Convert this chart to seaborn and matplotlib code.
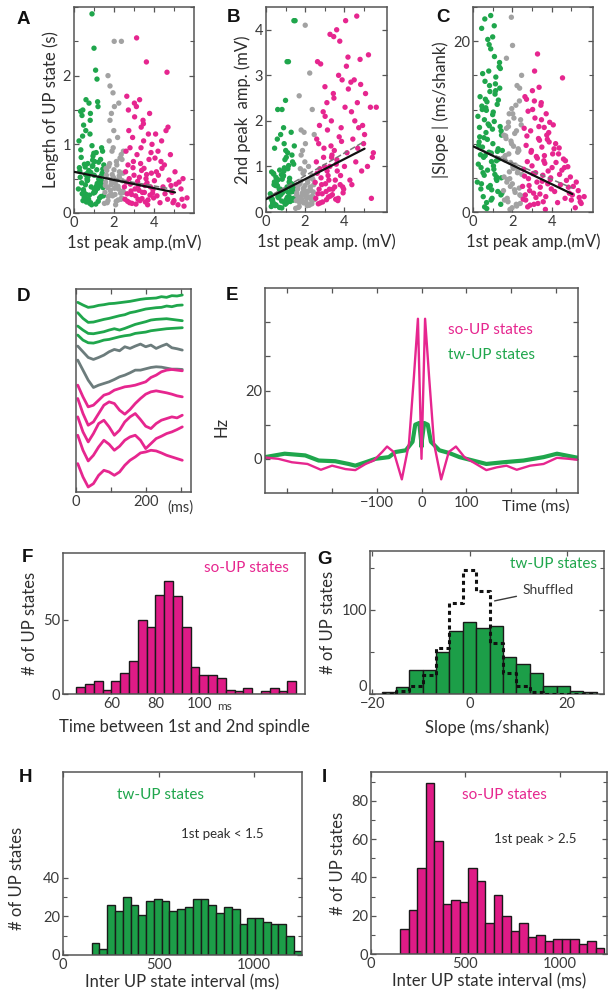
import numpy as np
import pandas as pd
import matplotlib
matplotlib.use("Agg")
import matplotlib.pyplot as plt
import seaborn as sns
from matplotlib.ticker import FixedLocator, MultipleLocator

# ---------------- data: panels A-C (one entry per UP state) ----------------
tw_amp1 = [0.22,0.31,0.45,0.52,0.38,0.61,0.74,0.83,0.95,1.12,1.28,1.41,0.27,0.49,0.66,0.88,1.03,1.19,1.36,1.47,
           0.34,0.57,0.71,0.92,1.08,1.24,1.33,0.41,0.63,0.79,0.99,1.16,1.44,0.25,0.54,0.69,0.86,1.01,1.21,1.39,
           0.29,0.47,0.59,0.77,0.94,1.09,1.26,1.45,0.36,0.51,0.68,0.81,0.97,1.14,1.31,0.43,0.58,0.73,0.9,1.06,
           1.23,1.42,0.33,0.62,0.84,1.11,1.35,0.48,0.7,1.0,1.18,1.29,0.56,0.8,1.04,1.38,0.4,0.65,0.93,1.2,
           1.0,1.08,0.9,0.6,0.82,1.15,0.44,1.43,1.49,0.75]
tw_length = [0.35,0.52,0.18,0.71,0.44,0.27,0.62,0.15,0.83,0.39,0.22,0.58,0.66,0.31,0.47,0.12,0.75,0.36,0.54,0.25,
             0.92,0.41,0.19,0.68,0.33,0.49,0.78,0.28,0.57,0.14,0.87,0.43,0.64,1.05,0.21,0.72,0.38,0.55,0.17,0.46,
             0.61,0.34,1.2,0.26,0.69,0.13,0.51,0.37,0.81,0.23,0.48,1.35,0.29,0.63,0.42,1.12,0.56,0.2,0.98,0.32,
             0.74,0.45,1.48,0.16,0.59,0.88,0.24,1.28,0.53,0.35,1.62,0.4,0.67,1.15,0.3,0.95,1.42,0.5,0.77,1.55,
             2.4,2.08,2.9,1.65,1.45,1.95,1.5,0.9,0.7,1.6]
tw_amp2 = [0.4,0.25,0.62,0.15,0.85,0.33,0.5,0.72,0.21,0.95,0.44,0.3,0.12,0.58,0.36,0.78,0.27,0.65,1.1,0.48,
           0.19,0.7,0.41,0.9,0.55,0.23,1.25,0.6,0.35,0.82,0.17,1.02,0.52,0.3,0.68,0.1,0.46,1.35,0.74,0.26,
           0.88,0.14,0.57,0.39,0.97,0.32,0.63,1.45,0.22,0.76,0.5,0.09,1.15,0.43,0.29,0.66,1.6,0.37,0.8,0.2,
           0.54,1.05,0.28,0.71,0.42,1.3,0.61,0.16,0.92,0.47,0.34,1.75,0.59,0.24,1.2,0.45,0.83,0.31,1.5,0.67,
           2.45,3.3,1.85,2.25,2.25,3.3,1.4,4.2,4.2,1.7]
tw_slope = [3.5,8.2,12.4,1.8,6.7,15.3,4.9,10.1,2.6,13.8,7.4,0.9,5.6,16.2,9.3,3.1,11.7,6.0,14.5,2.2,
            8.8,4.3,12.9,1.4,10.6,7.1,17.0,5.2,13.2,2.9,9.7,15.8,4.0,11.2,6.4,1.1,14.1,8.0,3.7,16.8,
            7.8,12.0,0.6,10.3,5.9,18.2,2.4,9.0,13.5,4.6,11.9,7.0,1.6,15.0,6.2,3.3,10.8,8.5,19.1,5.0,
            12.6,2.0,9.9,6.6,14.8,4.4,17.5,7.6,0.4,11.4,3.9,13.1,8.7,16.5,5.4,10.0,2.7,12.2,6.9,4.1,
            20.5,21.8,23.0,22.6,19.6,14.2,21.5,9.5,7.2,20.2]

mid_amp1 = [1.55,1.62,1.7,1.78,1.85,1.93,2.0,2.08,2.15,2.22,2.3,2.38,2.45,1.58,1.66,1.74,1.82,1.9,1.97,2.05,
            2.12,2.2,2.27,2.35,2.42,2.48,1.52,1.6,1.68,1.76,1.84,1.91,1.99,2.06,2.14,2.21,2.29,2.36,2.44,1.64,
            1.72,1.8,1.88,1.96,2.03,2.11,2.18,2.26,2.33,2.4,1.57,1.87,2.01,2.24,2.47,1.7,1.95,2.02,2.37,1.8]
mid_length = [0.3,0.55,0.18,0.72,0.41,0.25,0.63,0.12,0.48,0.35,0.8,0.22,0.58,0.45,0.15,0.68,0.33,0.9,0.52,0.27,
              0.75,0.39,0.6,0.2,0.47,0.3,0.14,0.65,0.37,1.05,0.28,0.56,1.2,0.43,0.7,0.19,0.5,0.85,0.32,0.62,
              0.24,1.35,0.46,0.95,0.36,0.17,1.1,0.54,0.29,0.78,0.4,1.45,2.5,1.6,0.9,2.0,1.75,1.55,2.5,1.85]
mid_amp2 = [0.25,0.5,0.12,0.68,0.38,0.2,0.58,0.3,0.45,0.15,0.75,0.35,0.6,0.42,0.1,0.62,0.28,0.85,0.48,0.22,
            0.7,0.33,0.55,0.18,0.44,0.27,0.08,0.6,0.32,0.95,0.24,0.52,1.1,0.4,0.65,0.16,0.47,0.8,0.29,0.57,
            0.21,1.25,0.43,0.9,0.34,0.14,1.0,0.5,0.26,0.72,0.37,1.35,4.1,3.05,1.7,2.55,1.75,1.5,2.25,1.8]
mid_slope = [2.5,6.1,9.8,1.2,4.7,8.3,3.3,11.0,5.5,0.7,7.4,2.0,10.2,4.1,8.9,1.6,6.8,3.0,12.1,5.1,
             9.2,0.9,7.0,2.8,10.8,4.4,6.3,1.4,8.6,3.8,11.5,5.8,0.5,7.7,2.3,9.5,4.9,13.0,1.9,6.6,
             3.5,10.5,0.3,8.0,5.3,2.6,12.5,4.6,7.2,1.0,9.0,3.9,19.5,14.8,16.0,18.0,22.8,11.5,14.5,10.0]

so_amp1 = [2.55,2.62,2.7,2.78,2.85,2.93,3.0,3.08,3.15,3.22,3.3,3.38,3.45,3.52,3.6,3.68,3.75,3.82,3.9,3.98,
           2.58,2.66,2.74,2.82,2.9,2.97,3.05,3.12,3.2,3.27,3.35,3.42,3.5,3.57,3.65,3.72,3.8,3.87,3.95,4.05,
           2.52,2.6,2.68,2.76,2.88,2.95,3.03,3.1,3.18,3.25,3.33,3.4,3.48,3.55,3.63,3.7,3.85,3.93,4.02,4.12,
           4.15,4.22,4.3,4.38,4.45,4.52,4.6,4.68,4.75,4.82,4.9,5.0,5.1,5.2,5.35,5.5,5.65,4.2,4.4,4.55,
           4.7,4.85,4.95,5.05,5.25,5.45,2.64,2.8,3.02,3.28,3.47,3.62,3.78,4.08,4.35,4.65,3.13,3.36,2.72,5.4]
so_length = [0.2,0.45,0.7,0.15,0.32,1.1,0.55,0.25,0.85,0.4,0.18,0.62,1.35,0.3,0.5,0.12,0.78,0.38,1.0,0.22,
             0.6,0.28,1.2,0.42,0.14,0.75,0.35,1.55,0.2,0.52,0.95,0.3,0.65,0.16,0.44,1.15,0.26,0.58,0.34,0.8,
             0.38,0.9,0.17,0.5,0.27,0.66,1.4,0.13,0.46,0.33,0.72,0.21,1.05,0.4,0.56,0.19,0.88,0.29,0.47,0.6,
             0.25,0.55,0.15,1.05,0.38,0.7,1.2,0.2,0.48,0.85,0.3,0.18,0.42,0.12,0.35,0.1,0.22,0.9,0.65,0.28,
             1.25,0.4,0.15,0.6,0.45,0.5,1.7,0.95,1.6,1.65,1.3,2.2,1.45,1.15,0.75,2.05,2.55,1.25,1.5,0.2]
so_amp2 = [0.3,0.85,1.5,0.2,0.6,2.2,1.0,0.45,1.8,0.7,0.35,1.25,2.6,0.55,1.05,0.25,1.65,0.8,2.9,0.5,
           1.1,0.4,1.9,0.75,0.22,1.4,0.62,2.4,0.33,1.0,2.0,0.5,1.35,0.28,0.9,3.0,0.6,1.55,0.42,2.3,
           0.65,1.6,0.18,0.95,0.4,1.2,2.1,0.27,0.8,0.5,1.45,0.38,2.5,0.7,1.15,0.3,1.85,0.55,1.0,3.2,
           1.3,2.7,0.7,2.2,1.6,2.9,1.1,2.4,1.85,3.35,0.9,1.5,2.6,1.0,2.3,1.3,2.3,3.4,0.6,2.0,
           1.4,2.8,1.9,1.7,3.45,1.2,3.3,3.25,2.75,3.9,3.85,4.0,3.75,4.2,2.85,4.3,0.9,1.2,0.5,0.3]
so_slope = [1.5,4.2,7.8,0.6,3.1,9.5,5.4,2.2,11.0,6.5,1.0,8.4,12.5,3.6,6.0,0.3,9.0,4.8,10.5,2.7,
            5.0,2.0,8.9,3.9,0.8,7.2,4.5,13.0,1.7,6.3,10.0,2.9,7.6,1.2,5.7,11.5,3.3,8.2,4.0,6.8,
            3.0,9.8,1.4,5.9,2.5,7.0,12.0,0.9,4.6,3.5,8.6,2.1,10.8,4.3,6.6,1.8,9.3,3.8,5.2,7.4,
            2.4,5.8,1.1,7.5,3.2,4.9,6.2,1.6,3.7,5.3,2.2,1.4,3.0,0.5,2.5,1.0,1.8,8.0,4.4,15.7,
            6.0,2.9,4.1,2.0,3.5,1.2,13.5,11.8,14.2,18.5,12.8,9.9,8.5,10.2,6.8,5.2,16.5,14.6,13.2,1.7]

# regression lines (end points)
fit_x = [0.0, 5.05]
fit_length = [0.60, 0.30]
fit_length_alt = [0.60, 0.34]
fit_amp2 = [0.28, 1.39]
fit_amp2_alt = [0.30, 1.55]
fit_slope = [7.7, 2.1]
fit_slope_alt = [7.7, 2.8]

# ---------------- panel D: example traces ----------------
D_time = [5, 20, 35, 50, 65, 80, 95, 110, 125, 140, 155, 170, 185, 200, 215, 230, 245, 260, 275, 290, 305]
D_traces = [
    [97,105,112,110,106,104,101,100,98,96,94,91,88,86,85,84,80,82,77,78,75],
    [128,145,157,156,152,148,145,141,137,134,128,125,121,117,115,113,112,108,110,106,105],
    [168,180,190,191,188,185,180,176,180,175,169,163,159,155,150,148,147,146,148,150,152],
    [195,210,218,219,215,210,208,204,200,197,195,190,188,186,182,180,178,176,175,174,173],
    [228,245,262,268,262,255,245,238,242,230,235,228,222,230,225,235,228,222,233,236,240],
    [270,300,330,352,345,340,335,328,320,315,308,300,300,296,292,290,291,294,297,297,298],
    [345,380,410,405,390,375,370,360,355,350,348,345,340,335,322,315,305,300,298,300,302],
    [385,430,465,455,430,405,395,400,420,432,418,400,385,372,365,362,365,368,372,377,380],
    [440,485,515,490,460,450,470,495,480,455,440,430,448,468,475,460,450,445,440,443,435],
    [495,540,572,555,530,510,522,540,528,510,500,495,510,535,520,505,498,490,485,478,470],
    [580,620,650,640,615,600,605,615,605,585,570,560,548,545,540,542,548,555,560,565,570],
]
D_groups = ["tw"] * 4 + ["mid"] * 2 + ["so"] * 5

# ---------------- panel E: cross-correlograms ----------------
E_so_t = [-350,-320,-290,-255,-225,-200,-170,-148,-125,-107,-88,-77,-62,-44,-28,-17,-8,0,8,17,28,44,61,77,96,122,145,168,190,213,243,273,303,330,350]
E_so_hz = [0.4,0.0,-1.0,-1.5,-3.2,-2.0,-3.0,-3.3,-1.5,-0.5,2.0,3.6,2.0,-6.0,4.5,24.0,41.0,0.0,41.0,24.0,4.5,-6.0,2.0,3.6,0.5,-1.5,-3.3,-2.5,-2.0,-3.2,-2.0,-1.5,0.3,0.0,-0.3]
E_tw_t = [-350,-306,-260,-230,-193,-163,-148,-125,-103,-73,-58,-35,-20,-14,-5,-1,0,1,6,14,21,40,62,85,115,145,183,228,273,303,350]
E_tw_hz = [0.5,1.5,1.0,-0.5,-0.7,-1.5,-2.0,-1.0,0.0,0.5,2.0,2.5,5.0,10.0,10.5,5.5,3.5,5.5,10.5,10.0,5.0,2.5,1.7,0.5,-0.5,-1.5,-1.0,-0.5,0.5,1.5,0.3]

# ---------------- panel F ----------------
F_bin_start, F_bin_width = 44, 4
F_counts = [5,7,9,3,9,14,22,50,45,67,76,66,45,18,13,13,11,3,2,4,0,2,4,2,9]

# ---------------- panel G ----------------
G_bin_start, G_bin_width = -17.94, 2.76
G_counts = [2,8,28,28,50,75,86,79,81,44,36,25,10,9,4,2]
G_shuffled = [0,3,9,22,55,108,148,122,61,25,9,2,0,0,0,0]

# ---------------- panels H, I ----------------
H_bin_start, H_bin_width = 150, 40.7
H_counts = [6,3,26,23,30,26,21,28,29,28,23,24,25,29,29,26,22,25,24,16,19,19,17,16,16,10,2]
I_bin_start, I_bin_width = 155, 45
I_counts = [13,23,45,89,59,26,28,27,45,38,16,31,20,12,16,9,10,7,8,8,8,5,7,3]

# ---------------- style ----------------
GREEN = "#1fa64c"
PINK = "#e6268f"
GRAY = "#a2a2a2"
DGRAY = "#6c7c7c"
BAR_PINK = "#df1b86"
BAR_GREEN = "#1c9e48"
TXT = "#2e2e2e"

sns.set_theme(style="ticks")
plt.rcParams["font.family"] = ["Lato", "DejaVu Sans"]
plt.rcParams["axes.labelsize"] = 12
plt.rcParams["axes.labelcolor"] = TXT
plt.rcParams["axes.unicode_minus"] = True

W, H = 614, 998
fig = plt.figure(figsize=(W / 100, H / 100), dpi=100)


def add_ax(x0, y0, x1, y1):
    return fig.add_axes([x0 / W, 1 - y1 / H, (x1 - x0) / W, (y1 - y0) / H])


def ftext(x, y, s, **kw):
    fig.text(x / W, 1 - y / H, s, **kw)


def style(ax):
    for s in ax.spines.values():
        s.set_visible(True)
        s.set_color("#555555")
        s.set_linewidth(1.1)
    ax.tick_params(which="both", direction="in", top=True, right=True,
                   color="#555555", labelsize=10.5, labelcolor="#3a3a3a", pad=2)
    ax.tick_params(which="major", length=3.5, width=0.9)
    ax.tick_params(which="minor", length=3.0, width=0.8)


def panel_letter(x, y, s):
    ftext(x, y, s, fontsize=13.5, fontweight="bold", ha="center", va="center",
          family=["Liberation Sans", "DejaVu Sans"], color="#111111")


def hist_df(start, width, counts, extra=None):
    edges = [start + width * k for k in range(len(counts) + 1)]
    centers = [e + width / 2 for e in edges[:-1]]
    d = pd.DataFrame({"center": centers, "count": counts})
    if extra is not None:
        d["extra"] = extra
    return d, edges


# ---------------- A, B, C ----------------
scatter_df = pd.DataFrame({
    "amp1": tw_amp1 + mid_amp1 + so_amp1,
    "length": tw_length + mid_length + so_length,
    "amp2": tw_amp2 + mid_amp2 + so_amp2,
    "slope": tw_slope + mid_slope + so_slope,
    "group": ["tw"] * len(tw_amp1) + ["mid"] * len(mid_amp1) + ["so"] * len(so_amp1),
})
pal = {"tw": GREEN, "mid": GRAY, "so": PINK}

axA = add_ax(74, 7, 194, 213)
axB = add_ax(266, 7, 387, 212)
axC = add_ax(473, 7, 593, 212)
specs = [
    (axA, "length", fit_length, fit_length_alt, (0, 3), [0, 1, 2], 0.5, "Length of UP state (s)", "1st peak amp.(mV)", 6.0),
    (axB, "amp2", fit_amp2, fit_amp2_alt, (0, 4.5), [0, 1, 2, 3, 4], 1.0, "2nd peak  amp. (mV)", "1st peak amp. (mV)", 6.2),
    (axC, "slope", fit_slope, fit_slope_alt, (0, 24), [0, 20], 4, "|Slope | (ms/shank)", "1st peak amp.(mV)", 6.1),
]
for ax, col, fit, fit_alt, ylim, yt, yminor, ylab, xlab, xmax in specs:
    sns.scatterplot(data=scatter_df, x="amp1", y=col, hue="group", palette=pal,
                    s=15, linewidth=0, legend=False, ax=ax, zorder=2)
    sns.lineplot(x=fit_x, y=fit_alt, color="#777777", lw=1.1, linestyle="--", ax=ax, zorder=3)
    sns.lineplot(x=fit_x, y=fit, color="#111111", lw=1.6, ax=ax, zorder=4)
    ax.set_xlim(0, xmax)
    ax.set_ylim(*ylim)
    ax.set_xticks([0, 2, 4])
    ax.xaxis.set_minor_locator(FixedLocator([1, 3, 5]))
    ax.set_yticks(yt)
    ax.yaxis.set_minor_locator(MultipleLocator(yminor))
    ax.set_xlabel(xlab, labelpad=3)
    ax.set_ylabel(ylab, labelpad=3)
    style(ax)

# ---------------- D ----------------
axD = add_ax(76, 289, 191, 492)
col_map = {"tw": GREEN, "mid": DGRAY, "so": PINK}
for trace, g in zip(D_traces, D_groups):
    sns.lineplot(x=D_time, y=trace, color=col_map[g], lw=2.0, ax=axD)
axD.set_xlim(0, 330)
axD.set_ylim(665, 57)
axD.set_xticks([0, 100, 200, 300], labels=["0", "", "200", ""])
axD.set_yticks([])
style(axD)
axD.tick_params(axis="y", left=False, right=False)
ftext(180, 508, "(ms)", fontsize=10.5, ha="center", va="center", color="#3a3a3a")

# ---------------- E ----------------
axE = add_ax(265, 288, 578, 493)
sns.lineplot(x=E_tw_t, y=E_tw_hz, color=GREEN, lw=3.0, ax=axE)
sns.lineplot(x=E_so_t, y=E_so_hz, color=PINK, lw=1.7, ax=axE)
axE.set_xlim(-350, 350)
axE.set_ylim(-10, 50)
axE.set_xticks([-300, -200, -100, 0, 100, 200, 300], labels=["", "", "\u2212100", "0", "100", "", ""])
axE.set_yticks([0, 10, 20, 30, 40], labels=["0", "", "20", "", ""])
axE.set_ylabel("Hz")
axE.yaxis.set_label_coords(-0.115, 0.32)
style(axE)
ftext(448, 330, "so-UP states", fontsize=11, color=PINK, ha="left", va="center")
ftext(448, 355, "tw-UP states", fontsize=11, color=GREEN, ha="left", va="center")
ftext(536, 507, "Time (ms)", fontsize=11.5, color=TXT, ha="center", va="center")

# ---------------- F ----------------
axF = add_ax(63, 553, 305, 694)
dF, F_edges = hist_df(F_bin_start, F_bin_width, F_counts)
sns.histplot(data=dF, x="center", weights="count", bins=F_edges, color=BAR_PINK,
             edgecolor="#1a1a1a", linewidth=1.0, alpha=1, ax=axF)
axF.set_xlim(38, 148)
axF.set_ylim(0, 95)
axF.set_xticks([60, 80, 100])
axF.set_yticks([0, 50])
axF.set_xlabel("Time between 1st and 2nd spindle", labelpad=6)
axF.set_ylabel("# of UP states")
style(axF)
axF.tick_params(top=False, right=False)
ftext(224, 706, "ms", fontsize=8.5, color="#3a3a3a", ha="center", va="center")
ftext(289, 568, "so-UP states", fontsize=11, color=PINK, ha="right", va="center")

# ---------------- G ----------------
axG = add_ax(370, 551, 604, 694)
dG, G_edges = hist_df(G_bin_start, G_bin_width, G_counts, G_shuffled)
sns.histplot(data=dG, x="center", weights="count", bins=G_edges, color=BAR_GREEN,
             edgecolor="#1a1a1a", linewidth=1.0, alpha=1, ax=axG)
sns.histplot(data=dG, x="center", weights="extra", bins=G_edges, element="step", fill=False,
             color="#111111", linewidth=2.2, linestyle=(0, (1.3, 1.1)), ax=axG, zorder=5)
axG.set_xlim(-20.5, 27.7)
axG.set_ylim(0, 170)
axG.set_xticks([-20, 0, 20])
axG.set_yticks([0, 100], labels=["0", "100"])
axG.yaxis.set_minor_locator(FixedLocator([50, 150]))
axG.set_xlabel("Slope (ms/shank)", labelpad=6)
axG.set_ylabel("# of UP states")
style(axG)
axG.get_yticklabels()[0].set_va("bottom")
axG.annotate("Shuffled", xy=(4.6, 110), xytext=(10.9, 124), fontsize=10, color="#3a3a3a",
             ha="left", va="center", arrowprops=dict(arrowstyle="-", color="#3a3a3a", lw=1.0))
ftext(597, 564, "tw-UP states", fontsize=11, color=GREEN, ha="right", va="center")

# ---------------- H ----------------
axH = add_ax(63, 772, 302, 955)
dH, H_edges = hist_df(H_bin_start, H_bin_width, H_counts)
sns.histplot(data=dH, x="center", weights="count", bins=H_edges, color=BAR_GREEN,
             edgecolor="#1a1a1a", linewidth=1.0, alpha=1, ax=axH)
axH.set_xlim(0, 1250)
axH.set_ylim(0, 95)
axH.set_xticks([0, 500, 1000])
axH.set_yticks([0, 20, 40])
axH.yaxis.set_minor_locator(FixedLocator([10, 30]))
axH.set_xlabel("Inter UP state interval (ms)", labelpad=2)
axH.set_ylabel("# of UP states")
axH.yaxis.set_label_coords(-0.16, 0.42)
style(axH)
ftext(117, 795, "tw-UP states", fontsize=11, color=GREEN, ha="left", va="center")
ftext(222, 834, "1st peak < 1.5", fontsize=9.5, color=TXT, ha="center", va="center")

# ---------------- I ----------------
axI = add_ax(371, 772, 607, 954)
dI, I_edges = hist_df(I_bin_start, I_bin_width, I_counts)
sns.histplot(data=dI, x="center", weights="count", bins=I_edges, color=BAR_PINK,
             edgecolor="#1a1a1a", linewidth=1.0, alpha=1, ax=axI)
axI.set_xlim(0, 1250)
axI.set_ylim(0, 95)
axI.set_xticks([0, 500, 1000])
axI.set_yticks([0, 20, 40, 60, 80])
axI.yaxis.set_minor_locator(MultipleLocator(10))
axI.set_xlabel("Inter UP state interval (ms)", labelpad=2)
axI.set_ylabel("# of UP states")
style(axI)
ftext(462, 795, "so-UP states", fontsize=11, color=PINK, ha="left", va="center")
ftext(535, 839, "1st peak > 2.5", fontsize=9.5, color=TXT, ha="center", va="center")

# ---------------- panel letters ----------------
for x, y, s in [(23, 19, "A"), (233, 18, "B"), (443, 18, "C"), (23, 296, "D"), (232, 295, "E"),
                (27, 558, "F"), (325, 560, "G"), (25, 778, "H"), (324, 777, "I")]:
    panel_letter(x, y, s)

fig.savefig("out.png", dpi=100)
